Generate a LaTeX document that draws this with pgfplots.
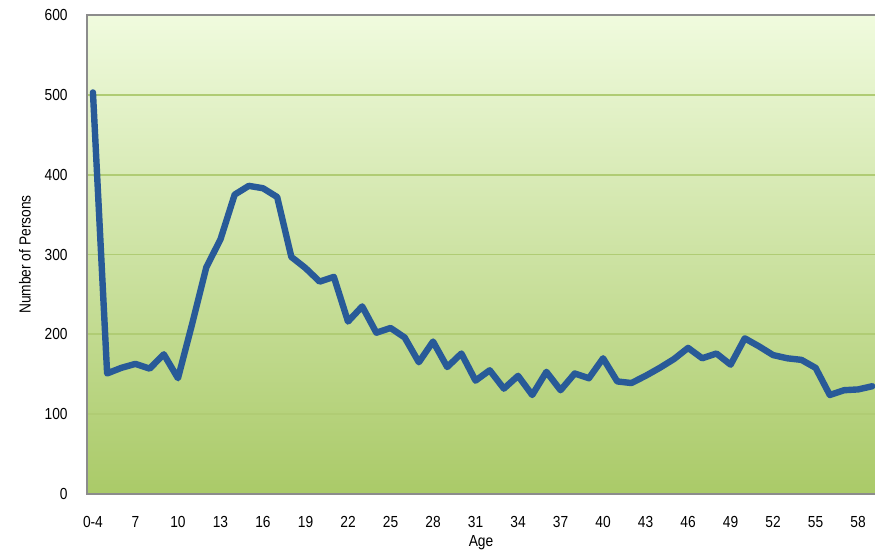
\documentclass[border=0pt]{standalone}
\usepackage{fontspec}
\setmainfont{Liberation Sans}[FakeStretch=0.86]
\usepackage{pgfplots}
\pgfplotsset{compat=1.18}

\definecolor{linecol}{RGB}{40,90,152}
\definecolor{gridcol}{RGB}{176,204,116}
\definecolor{framecol}{RGB}{140,140,140}
\definecolor{bgtop}{RGB}{240,251,222}
\definecolor{bgmid}{RGB}{218,239,178}
\definecolor{bgbot}{RGB}{170,202,104}

\begin{document}
\begin{tikzpicture}
\useasboundingbox (-65.25pt,-44.25pt) rectangle (591pt,370.5pt);
\begin{axis}[
    scale only axis,
    width=591pt, height=359.25pt,
    xmin=-0.42, xmax=55.19,
    ymin=0, ymax=600,
    ytick={0,100,...,600},
    xtick={0,3,...,54},
    xticklabels={0-4,7,10,13,16,19,22,25,28,31,34,37,40,43,46,49,52,55,58},
    major tick length=0pt,
    ymajorgrids,
    major grid style={gridcol, line width=1.4pt},
    axis line style={draw=none},
    axis background/.style={top color=bgtop, middle color=bgmid, bottom color=bgbot},
    /pgf/number format/assume math mode=true,
    tick label style={font=\fontsize{12}{14}\selectfont},
    xticklabel style={anchor=base, yshift=-24.75pt},
    yticklabel style={anchor=east, xshift=-11pt},
    xlabel={Age},
    ylabel={Number of Persons},
    every axis x label/.style={at={(axis description cs:0.5,-0.1023)}, anchor=center, font=\fontsize{12}{14}\selectfont},
    every axis y label/.style={at={(axis description cs:-0.0787,0.5)}, anchor=center, rotate=90, font=\fontsize{12}{14}\selectfont},
]
\addplot [linecol, line width=4.8pt, line join=round, line cap=round] table [x=i, y=n] {
i n
0 503
1 151
2 158
3 163
4 157
5 175
6 145
7 213
8 284
9 319
10 375
11 386
12 383
13 372
14 297
15 283
16 266
17 272
18 216
19 235
20 202
21 208
22 196
23 165
24 191
25 159
26 176
27 142
28 155
29 132
30 148
31 124
32 153
33 130
34 151
35 145
36 170
37 141
38 139
39 148
40 158
41 169
42 183
43 170
44 176
45 162
46 195
47 185
48 174
49 170
50 168
51 158
52 124
53 130
54 131
55 135
};
\end{axis}
\draw [framecol, line width=1.3pt] (current axis.north east) -- (current axis.north west) -- (current axis.south west) -- (current axis.south east);
\end{tikzpicture}
\end{document}
